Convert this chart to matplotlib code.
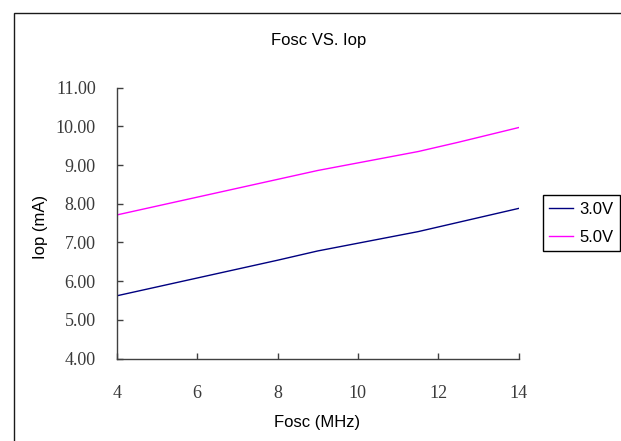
import matplotlib
matplotlib.use("Agg")
import matplotlib.pyplot as plt
from matplotlib.patches import Rectangle

# values
fosc = [4, 6, 8, 9, 11.5, 12.5, 14]
iop_3v = [5.62, 6.08, 6.54, 6.78, 7.28, 7.52, 7.88]
iop_5v = [7.71, 8.17, 8.63, 8.86, 9.35, 9.59, 9.97]
series_names = ["3.0V", "5.0V"]
xticks = [4, 6, 8, 10, 12, 14]
yticks = [4, 5, 6, 7, 8, 9, 10, 11]

W, H = 621, 441
fig = plt.figure(figsize=(W / 100, H / 100), dpi=100)

# outer chart border (runs off the right and bottom edges)
fig.patches.append(Rectangle((13.7 / W, -0.1), 1.2, 1 - 12.7 / H + 0.1,
                             transform=fig.transFigure, fill=False,
                             edgecolor="#1a1a1a", linewidth=1.0))

ax = fig.add_axes([116.7 / W, 1 - 358.5 / H, 402 / W, 270.8 / H])
ax.plot(fosc, iop_3v, color="#000080", lw=1.0, label=series_names[0])
ax.plot(fosc, iop_5v, color="#FF00FF", lw=1.0, label=series_names[1])

ax.set_xlim(4, 14)
ax.set_ylim(4, 11)
ax.set_xticks(xticks)
ax.set_yticks(yticks)
ax.set_yticklabels(["%.2f" % v for v in yticks])

for s in ["top", "right"]:
    ax.spines[s].set_visible(False)
for s in ["left", "bottom"]:
    ax.spines[s].set_color("#404040")
    ax.spines[s].set_linewidth(1.0)

ax.tick_params(axis="both", direction="in", length=4.5, width=1.0,
               color="#404040", labelcolor="#3a3a3a")
ax.tick_params(axis="y", pad=15)
ax.tick_params(axis="x", pad=19)
for lab in ax.get_xticklabels() + ax.get_yticklabels():
    lab.set_fontfamily("Liberation Serif")
    lab.set_fontsize(13)

sans = "Liberation Sans"
fig.text(318.5 / W, 1 - 40 / H, "Fosc VS. Iop", ha="center", va="center",
         fontsize=12, family=sans)
fig.text(317 / W, 1 - 423 / H, "Fosc (MHz)", ha="center", va="center",
         fontsize=12, family=sans)
fig.text(40.7 / W, 1 - 226.7 / H, "Iop (mA)", ha="center", va="center",
         fontsize=12, family=sans, rotation=90)

leg = ax.legend(loc="upper left", bbox_to_anchor=(542.7 / W, 1 - 195 / H),
                bbox_transform=fig.transFigure, borderaxespad=0,
                frameon=True, fancybox=False, framealpha=1,
                edgecolor="black", prop={"family": sans, "size": 12},
                handlelength=1.4, handletextpad=0.4, borderpad=0.4,
                labelspacing=0.77)
leg.get_frame().set_linewidth(1.0)

fig.savefig("out.png", dpi=100)
